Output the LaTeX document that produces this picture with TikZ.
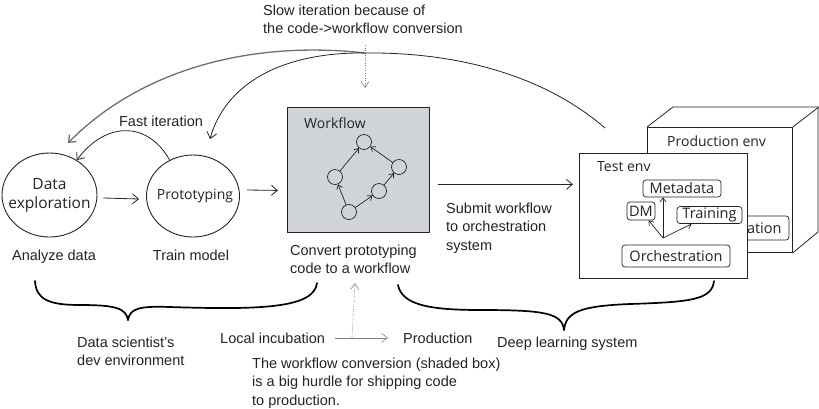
\documentclass[tikz,border=0pt]{standalone}
\usepackage{fontspec}
\setmainfont{Liberation Sans}
\newfontfamily\hand{Open Sans}
\usetikzlibrary{arrows.meta,shapes.geometric}
\definecolor{wfgray}{RGB}{208,211,216}
\definecolor{ink}{RGB}{35,35,35}
\definecolor{curvegray}{RGB}{110,110,110}
\begin{document}
\begin{tikzpicture}[x=1pt,y=-1pt,
  lbl/.style={font=\fontsize{14.5}{18.5}\selectfont, inner sep=0pt, text=ink},
  hw/.style={font=\hand\fontsize{14}{17}\selectfont, inner sep=0pt, text=ink},
  conn/.style={draw=ink, line width=0.8pt, -{Straight Barb[length=6pt,width=10pt]}},
  sconn/.style={draw=ink, line width=0.7pt, -{Straight Barb[length=4pt,width=6pt]}},
  dotarrow/.style={draw=gray, line width=0.6pt, dash pattern=on 1pt off 1.5pt, -{Straight Barb[length=6pt,width=8pt]}},
  bubble/.style={ellipse, draw=ink, line width=0.9pt, inner sep=0pt, align=center},
  small/.style={circle, draw=ink, line width=0.7pt, minimum size=15pt, inner sep=0pt},
  rbox/.style={draw=ink, rounded corners=3pt, line width=0.7pt, fill=white, inner sep=0pt, font=\hand\fontsize{14.5}{16}\selectfont, text=ink},
  envbox/.style={draw=ink, line width=0.8pt, fill=white, anchor=north west, inner sep=0pt},
  brace/.style={draw=black, line width=1.7pt, line cap=round},
]
\useasboundingbox (0,0) rectangle (819,408);

% --- top note
\node[lbl, anchor=base west, align=left] (slow) at (263,33.5) {Slow iteration because of\\the code->workflow conversion};
\coordinate (sdtop) at (365,45);
\coordinate (sdbot) at (365,88);
\draw[dotarrow] (sdtop) -- (sdbot);

% --- bubbles
\node[bubble, minimum width=95pt, minimum height=84pt] (de) at (49.5,195) {};
\node[hw, align=center, font=\hand\fontsize{15.5}{19}\selectfont] (detxt) at (49.5,195) {Data\\exploration};
\node[bubble, minimum width=93pt, minimum height=82pt] (pt) at (193,196) {};
\node[hw] (pttxt) at (195,196) {Prototyping};
\node[lbl, anchor=base] (analyze) at (54,260) {Analyze data};
\node[lbl, anchor=base] (train) at (191,260) {Train model};
\node[lbl, anchor=base] (fast) at (161,126) {Fast iteration};

\draw[conn] ([xshift=6pt,yshift=-3pt]de.east) -- ([xshift=-7pt,yshift=-3pt]pt.west);
\draw[conn] (pt.123) .. controls (147,120) and (105,122) .. (de.52);

% --- workflow box
\node[draw=ink, line width=0.8pt, fill=wfgray, anchor=north west, minimum width=142pt, minimum height=125pt, inner sep=0pt] (wf) at (287,107) {};
\node[hw, anchor=base west] (wftxt) at (304,128) {Workflow};
\node[small] (ctop) at (364,142) {};
\node[small] (cleft) at (335,177) {};
\node[small] (cbot) at (349,212) {};
\node[small] (cmid) at (379,191) {};
\node[small] (cright) at (399,167) {};
\draw[sconn] (cbot) -- (cleft);
\draw[sconn] (cleft) -- (ctop);
\draw[sconn] (cbot) -- (cmid);
\draw[sconn] (cmid) -- (cright);
\draw[sconn] (cright) -- (ctop);
\node[lbl, anchor=base west, align=left] (convert) at (290,273.5) {Convert prototyping\\code to a workflow};

\draw[conn] ([xshift=7pt,yshift=6pt]pt.east) -- ([xshift=-9pt,yshift=-20.5pt]wf.west);

% --- production env (behind)
\node[envbox, minimum width=145pt, minimum height=125pt] (prod) at (647,127) {};
\draw[draw=ink, line width=0.8pt, line join=round] (prod.north west) -- ++(26,-20) -- ++(145,0) -- ++(0,125) -- (prod.south east);
\draw[draw=ink, line width=0.8pt] (prod.north east) -- ++(26,-20);
\node[hw, anchor=base west] (prodtxt) at (667,146) {Production env};
\node[rbox, minimum width=108pt, minimum height=24pt] (porch) at (735,228) {Orchestration};

% --- test env (front)
\node[envbox, minimum width=168pt, minimum height=125pt] (test) at (579,153) {};
\node[hw, anchor=base west] (testtxt) at (597,171) {Test env};
\node[rbox, minimum width=78pt, minimum height=17pt] (meta) at (682,188.5) {Metadata};
\node[rbox, minimum width=28pt, minimum height=18pt] (dm) at (641,211) {DM};
\node[rbox, minimum width=65pt, minimum height=17pt] (trainbox) at (709.5,215) {Training};
\node[rbox, minimum width=108pt, minimum height=22pt] (orch) at (676,256) {Orchestration};
\coordinate (j) at (663,238);
\draw[sconn] (j) -- (dm);
\draw[sconn] (j) -- (j |- meta.south);
\draw[sconn] (j) -- (trainbox);

\draw[conn] ([xshift=8pt,yshift=-14.5pt]wf.east) -- ([xshift=-6pt,yshift=31.5pt]test.west);
\node[lbl, anchor=base west, align=left] (submit) at (446,250) {Submit workflow\\to orchestration\\system};

% --- slow iteration curves
\coordinate (rstart) at (605,128);
\coordinate (split) at (365,53);
\coordinate (atip) at (68,143);
\coordinate (btip) at (210,139);
\draw[draw=ink, line width=0.8pt] (rstart) .. controls (540,72) and (450,52) .. (split);
\draw[draw=curvegray, line width=1.3pt, -{Straight Barb[length=6pt,width=10pt]}] (split) .. controls (250,40) and (140,70) .. (atip);
\draw[conn] (split) .. controls (280,52) and (225,85) .. (btip);

% --- braces
\draw[brace] (35,281) .. controls (36,300) and (50,305) .. (80,305) .. controls (115,305) and (126,308) .. (128,320);
\draw[brace] (128,320) .. controls (130,308) and (140,306) .. (170,307) .. controls (262,310) and (314,308) .. (317,283);
\draw[brace] (398,285) .. controls (402,305) and (430,310) .. (480,310) .. controls (545,310) and (562,313) .. (564,330);
\draw[brace] (564,330) .. controls (566,312) and (580,306) .. (630,304) .. controls (690,302) and (712,300) .. (714,281);

% --- bottom labels
\node[lbl, anchor=base west, align=left] (dsde) at (77,365.5) {Data scientist's\\dev environment};
\node[lbl, anchor=base west] (local) at (220,343) {Local incubation};
\node[lbl, anchor=base west] (prodlbl) at (403,343) {Production};
\node[lbl, anchor=base west] (dls) at (497,347) {Deep learning system};
\draw[draw=gray, line width=0.6pt, -{Straight Barb[length=6pt,width=9pt]}] ([xshift=10pt,yshift=0pt]local.east) -- ([xshift=-15pt]prodlbl.west);
\coordinate (udbot) at (352,337);
\coordinate (udtop) at (355,283);
\draw[dotarrow] (udbot) -- (udtop);
\node[lbl, anchor=base west, align=left] (hurdle) at (252,405) {The workflow conversion (shaded box)\\is a big hurdle for shipping code\\to production.};
\end{tikzpicture}
\end{document}
